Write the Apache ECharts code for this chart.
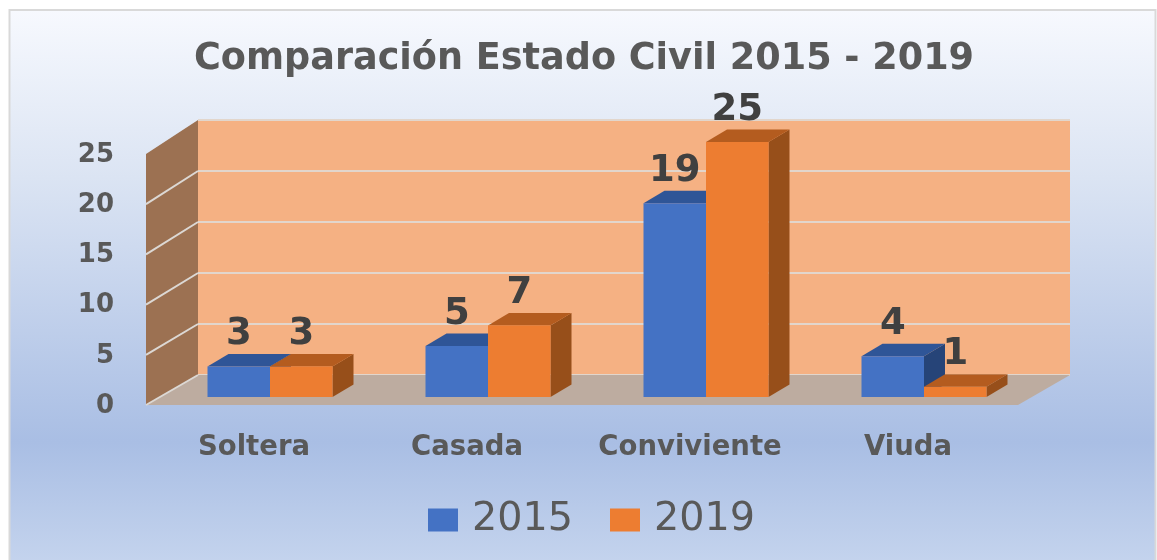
<!DOCTYPE html>
<html><head><meta charset="utf-8">
<style>html,body{margin:0;padding:0;background:#fff}#c{width:1157px;height:560px}</style>
<script src="https://cdn.jsdelivr.net/npm/echarts@6/dist/echarts.min.js"></script>
</head><body><div id="c"></div>
<script>
const titleText = 'Comparación Estado Civil 2015 - 2019';
const categories = ['Soltera', 'Casada', 'Conviviente', 'Viuda'];
const seriesNames = ['2015', '2019'];
const values2015 = [3, 5, 19, 4];
const values2019 = [3, 7, 25, 1];
const yTicks = [0, 5, 10, 15, 20, 25];

const FONT = '"DejaVu Sans", sans-serif';
const BAR_W = 62.5, DX = 21, DY = 12.5;

function bar3d(offsetSign, front, top, side) {
  return function (params, api) {
    const p = api.coord([api.value(0), api.value(1)]);
    const base = api.coord([api.value(0), 0]);
    const x0 = offsetSign < 0 ? p[0] - BAR_W : p[0];
    const x1 = x0 + BAR_W, y0 = p[1], y1 = base[1];
    const poly = (pts, fill) => ({ type: 'polygon', shape: { points: pts }, style: { fill } });
    return { type: 'group', children: [
      poly([[x1, y0], [x1 + DX, y0 - DY], [x1 + DX, y1 - DY], [x1, y1]], side),
      poly([[x0, y0], [x0 + DX, y0 - DY], [x1 + DX, y0 - DY], [x1, y0]], top),
      poly([[x0, y0], [x1, y0], [x1, y1], [x0, y1]], front),
      { type: 'text', style: { text: String(api.value(1)), x: (x0 + x1) / 2, y: y0 - 32, align: 'center',
        verticalAlign: 'middle', fill: '#404040', font: 'bold 37px ' + FONT } }
    ]};
  };
}

function walls(params, api) {
  const cs = params.coordSys;
  const X = cs.x, R = cs.x + cs.width, SX = 52;
  const frontY = (v, by) => by + 30 + v * 4 / 25;
  const b0 = api.coord([0, 0])[1], bTop = api.coord([0, yTicks[yTicks.length - 1]])[1];
  const vTop = yTicks[yTicks.length - 1];
  const ch = [
    { type: 'polygon', shape: { points: [[X, bTop], [X, b0], [X - SX, frontY(0, b0)], [X - SX, frontY(vTop, bTop)]] }, style: { fill: '#9c7152' } },
    { type: 'polygon', shape: { points: [[X, b0], [R, b0], [R - SX, frontY(0, b0)], [X - SX, frontY(0, b0)]] }, style: { fill: '#bdaca0' } }
  ];
  yTicks.slice(0, -1).forEach(v => {
    const by = api.coord([0, v])[1];
    ch.push({ type: 'line', shape: { x1: X, y1: by, x2: X - SX, y2: frontY(v, by) }, style: { stroke: '#dcd8d4', lineWidth: 2 } });
  });
  return { type: 'group', children: ch };
}

const chart = echarts.init(document.getElementById('c'), null, { renderer: 'canvas' });
const hiddenY = { type: 'value', min: 0, max: 25, interval: 5, show: false };
const catStyle = { color: '#595959', fontFamily: FONT, fontWeight: 'bold', fontSize: 27.5 };
chart.setOption({
  animation: false,
  graphic: [{ type: 'rect', z: -10, silent: true,
    shape: { x: 9.5, y: 10, width: 1146, height: 560 },
    style: { stroke: '#d9d9d9', lineWidth: 2,
      fill: new echarts.graphic.LinearGradient(0, 0, 0, 1, [
        { offset: 0, color: '#f7f9fe' }, { offset: 0.3, color: '#dbe4f3' },
        { offset: 0.77, color: '#a9bee4' }, { offset: 1, color: '#c6d5ee' }]) } }],
  title: { text: titleText, left: 579, top: 36, textAlign: 'center',
    textStyle: { fontFamily: FONT, fontWeight: 'bold', fontSize: 36.6, color: '#595959' } },
  legend: { left: 423, top: 495, itemWidth: 30, itemHeight: 23, itemGap: 37, icon: 'rect',
    data: seriesNames,
    textStyle: { fontFamily: FONT, fontSize: 39.7, color: '#595959', padding: [0, 0, 0, 9] } },
  grid: [
    { left: 145, top: 155, width: 872, height: 251, show: false },
    { left: 198, top: 120, width: 872, height: 255, show: true, backgroundColor: '#f5b183', borderWidth: 0 },
    { left: 161, top: 142, width: 872, height: 255, show: false }
  ],
  xAxis: [
    { gridIndex: 0, type: 'category', data: categories, axisLine: { show: false }, axisTick: { show: false },
      axisLabel: { margin: 28, interval: 0, hideOverlap: false, ...catStyle,
        formatter: v => v === 'Casada' ? '{shift|' + v + '}' : v,
        rich: { shift: { ...catStyle, padding: [0, 10, 0, 0] } } } },
    { gridIndex: 1, type: 'category', data: categories, show: false },
    { gridIndex: 2, type: 'category', data: categories, show: false }
  ],
  yAxis: [
    { gridIndex: 0, type: 'value', min: 0, max: 25, interval: 5, axisLine: { show: false }, axisTick: { show: false }, splitLine: { show: false },
      axisLabel: { margin: 31, color: '#595959', fontFamily: FONT, fontWeight: 'bold', fontSize: 26 } },
    { gridIndex: 1, type: 'value', min: 0, max: 25, interval: 5, axisLine: { show: false }, axisTick: { show: false }, axisLabel: { show: false },
      splitLine: { show: true, lineStyle: { color: '#e2d6cc', width: 2 } } },
    { gridIndex: 2, ...hiddenY }
  ],
  series: [
    { type: 'custom', name: 'walls', xAxisIndex: 1, yAxisIndex: 1, silent: true, z: 1, data: [[0, 0]], encode: { x: 0, y: 1 }, renderItem: walls },
    { type: 'custom', name: seriesNames[0], xAxisIndex: 2, yAxisIndex: 2, z: 2, itemStyle: { color: '#4472c4' },
      data: values2015.map((v, i) => [i, v]), encode: { x: 0, y: 1 }, renderItem: bar3d(-1, '#4472c4', '#2f5597', '#264478') },
    { type: 'custom', name: seriesNames[1], xAxisIndex: 2, yAxisIndex: 2, z: 3, itemStyle: { color: '#ed7d31' },
      data: values2019.map((v, i) => [i, v]), encode: { x: 0, y: 1 }, renderItem: bar3d(1, '#ed7d31', '#b45c1f', '#974f1a') }
  ]
});
</script></body></html>
